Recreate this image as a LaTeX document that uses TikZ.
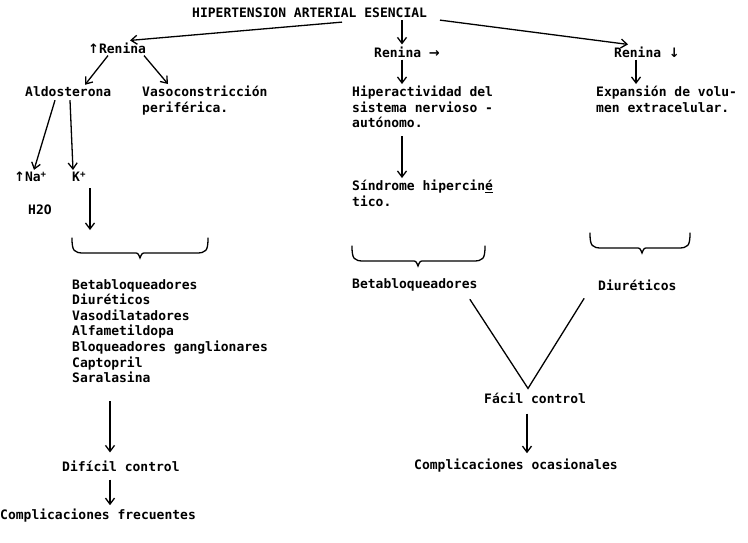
\documentclass[tikz,border=0pt]{standalone}
\usepackage{fontspec}
\setmonofont{DejaVu Sans Mono}
\newfontfamily\symfont{DejaVu Sans}
\usetikzlibrary{arrows.meta}
\usetikzlibrary{positioning}

\tikzset{
    maquina/.style={font=\ttfamily\bfseries\fontsize{13}{15.6}\selectfont, inner sep=0pt, anchor=west, align=left},
    bloque/.style={maquina, anchor=north west},
    flecha/.style={-{Straight Barb[length=6pt,width=9pt]}, line width=1.3pt},
    trazo/.style={line width=1.3pt, line cap=round}
}

\begin{document}
\begin{tikzpicture}[x=1pt,y=-1pt]
    \useasboundingbox (0,0) rectangle (748,542);

    % Titulo
    \node[maquina] (titulo) at (192,13) {HIPERTENSION ARTERIAL ESENCIAL};

    % Tres tipos de renina
    \node[maquina] (reninaI) at (88,48) {{\symfont ↑}Renina};
    \node[maquina] (reninaC) at (374,52) {Renina {\symfont →}};
    \node[maquina] (reninaD) at (614,52) {Renina {\symfont ↓}};

    \draw[flecha] ([xshift=150pt,yshift=-4pt]titulo.south west) -- ([xshift=42pt,yshift=2pt]reninaI.north west);
    \draw[flecha] ([xshift=210pt,yshift=-2pt]titulo.south west) -- ([xshift=28pt,yshift=2pt]reninaC.north west);
    \draw[flecha] ([xshift=248pt,yshift=-2pt]titulo.south west) -- ([xshift=14pt,yshift=2pt]reninaD.north west);

    % Segunda fila
    \node[maquina] (aldo) at (25,92) {Aldosterona};
    \node[bloque] (vaso) at (142,86) {Vasoconstricción\\periférica.};
    \node[bloque] (hiper) at (352,86) {Hiperactividad del\\sistema nervioso -\\autónomo.};
    \node[bloque] (expan) at (596,86) {Expansión de volu-\\men extracelular.};

    \draw[flecha] ([xshift=20pt,yshift=-2pt]reninaI.south west) -- ([xshift=60pt,yshift=2pt]aldo.north west);
    \draw[flecha] ([xshift=56pt,yshift=-2pt]reninaI.south west) -- ([xshift=26pt,yshift=2pt]vaso.north west);
    \draw[flecha] ([xshift=28pt,yshift=-2pt]reninaC.south west) -- ([xshift=50pt,yshift=2pt]hiper.north west);
    \draw[flecha] ([xshift=22pt,yshift=-2pt]reninaD.south west) -- ([xshift=40pt,yshift=2pt]expan.north west);

    % Electrolitos
    \node[maquina] (sodio) at (14,177) {{\symfont ↑}Na\textsuperscript{+}};
    \node[maquina] (agua) at (28,210) {H2O};
    \node[maquina] (potasio) at (72,177) {K\textsuperscript{+}};

    \draw[flecha] ([xshift=30pt,yshift=-3pt]aldo.south west) -- ([xshift=20pt,yshift=2pt]sodio.north west);
    \draw[flecha] ([xshift=45pt,yshift=-3pt]aldo.south west) -- ([xshift=1pt,yshift=2pt]potasio.north west);

    % Sindrome
    \node[bloque] (sindrome) at (352,180) {Síndrome hipercin\underline{é}\\tico.};
    \draw[flecha] ([yshift=-8pt,xshift=50pt]hiper.south west) -- ([xshift=50pt,yshift=2pt]sindrome.north west);

    % Llaves
    \foreach \xa/\xb/\xm/\yb in {72/208/140/238, 352/485/418/246, 590/690/642/233} {
        \draw[trazo] (\xa,\yb) .. controls (\xa,\yb+13) and (\xa+2,\yb+15) .. (\xa+12,\yb+15)
            -- (\xm-6,\yb+15) .. controls (\xm-2,\yb+15) .. (\xm,\yb+20)
            .. controls (\xm+2,\yb+15) .. (\xm+6,\yb+15)
            -- (\xb-12,\yb+15) .. controls (\xb-2,\yb+15) and (\xb,\yb+13) .. (\xb,\yb);
    }
    \coordinate (llaveI) at (90,230);
    \draw[flecha] ([xshift=18pt,yshift=-6pt]potasio.south west) -- (llaveI);

    % Tratamientos
    \node[bloque] (farmacos) at (72,279) {Betabloqueadores\\Diuréticos\\Vasodilatadores\\Alfametildopa\\Bloqueadores ganglionares\\Captopril\\Saralasina};
    \node[maquina] (betaC) at (352,285) {Betabloqueadores};
    \node[maquina] (diurD) at (598,285) {Diuréticos};

    % Control
    \node[maquina] (dificil) at (62,466) {Difícil control};
    \node[maquina] (frecuentes) at (0,516) {Complicaciones frecuentes};
    \node[maquina] (facil) at (484,398) {Fácil control};
    \node[maquina] (ocasionales) at (414,466) {Complicaciones ocasionales};

    \draw[flecha] ([xshift=38pt,yshift=-18pt]farmacos.south west) -- ([xshift=48pt,yshift=8pt]dificil.north west);
    \draw[flecha] ([xshift=48pt,yshift=-8pt]dificil.south west) -- ([xshift=110pt,yshift=4pt]frecuentes.north west);
    \draw[trazo] ([xshift=118pt,yshift=-8pt]betaC.south west) -- ([xshift=44pt,yshift=4pt]facil.north west) -- ([xshift=-14pt,yshift=-8pt]diurD.south west);
    \draw[flecha] ([xshift=43pt,yshift=-10pt]facil.south west) -- ([xshift=113pt,yshift=6pt]ocasionales.north west);
\end{tikzpicture}
\end{document}
